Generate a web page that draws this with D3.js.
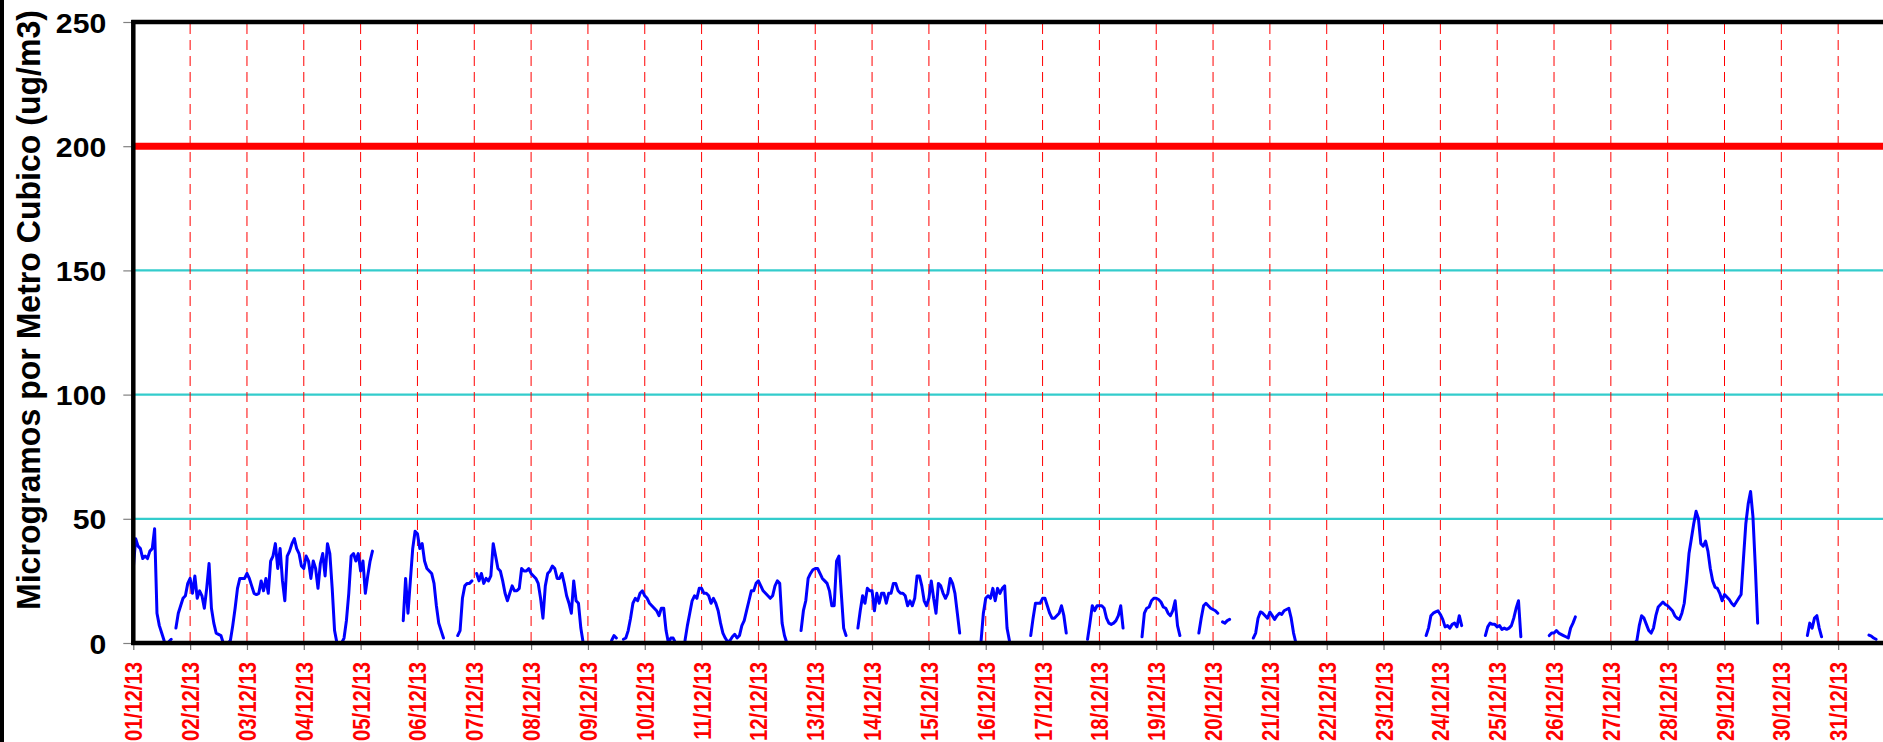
<!DOCTYPE html>
<html><head><meta charset="utf-8">
<script src="https://cdn.jsdelivr.net/npm/d3@7"></script>
<style>html,body{margin:0;padding:0;background:#fff;overflow:hidden}</style>
</head><body><svg id="chart" width="1883" height="742"></svg>
<script>
const n = null;
const startDate = new Date(2013, 11, 1);
const endDate = new Date(2014, 0, 1);
const dayLabels = ["01/12/13","02/12/13","03/12/13","04/12/13","05/12/13","06/12/13","07/12/13","08/12/13","09/12/13","10/12/13","11/12/13","12/12/13","13/12/13","14/12/13","15/12/13","16/12/13","17/12/13","18/12/13","19/12/13","20/12/13","21/12/13","22/12/13","23/12/13","24/12/13","25/12/13","26/12/13","27/12/13","28/12/13","29/12/13","30/12/13","31/12/13"];
const yTicks = [0, 50, 100, 150, 200, 250];
const gridValues = [50, 100, 150];
const limitValue = 200;
const yTitle = "Microgramos por Metro Cubico (ug/m3)";
// hourly PM10 values (ug/m3), one row per day, 24 hours each; null = no data
const hourlyByDay = [
 [30,42,39,38,34,35,34,37,38,46,12,7,4,1,n,0.5,1.5,n,6,12,15,18,19,24],
 [26,20,27,18,21,19,14,22,32,14,8,4,3.5,3,0,0,0,1,7,14,22,26,26,26],
 [28,26,23,20,19.5,20,25,21,26,20,33,35,40,30,38,25,17,35,37,40,42,38,36,31],
 [30,35,33,26,33,30,22,32,36,27,40,36,22,5,0,0,0,2,9,20,35,36,33,36],
 [29,33,20,27,33,37,n,n,n,n,n,n,n,n,n,n,n,n,9,26,12,25,38,45],
 [44,38,40,33,30,29,28,24,15,8,5,2,n,n,n,n,n,3,5,18,23,24,24,25],
 [n,28,25,28,24,26,25,27,40,35,30,29,25,20,17,20,23,21,21,22,30,29,29,30],
 [28,27,26,24,18,10,23,28,29,31,30,26,26,28,24,19,16,12,25,17,16,6,0,n],
 [n,n,n,n,n,n,n,n,n,n,1,3,2,n,n,1.5,2,5,10,16,18,17,20,21],
 [19,18,16,15,14,13,11,14,14,5,0,2,2,0,n,n,n,1,7,12,17,19,18,22],
 [22,20,20,19,16,18,16,13,8,4,2,0.5,1,2.5,3.5,2,3,7,9,13,17,21,21,24],
 [25,23,21,20,19,18,19,23,25,24,8,3,0,n,n,n,n,n,5,13,17,26,28,29.5],
 [30,30,28,26,25,24,21,15,15,33,35,20,6,3,n,n,n,n,6,13,19,16,22,21],
 [21,13,20,16,20,20,16,20,20,24,24,21,20,20,19,15,17,15,18,27,27,23,17,15],
 [18,25,18,12,24,23,20,18,20,26,24,20,12,4,n,n,n,n,n,n,n,n,0.5,12],
 [18,19,18,22,17,22,20,22,23,6,1,n,n,n,n,n,n,n,n,3,10,16,16,16],
 [18,18,15,12,10,10,11,12,15,11,4,n,n,n,n,n,n,n,n,1.5,8,15,13,15],
 [15,15,14,10,8,7.5,8,9,11,15,6,n,n,n,n,n,n,n,2.5,12,14,14.5,17,18],
 [18,17.5,16.5,14.5,14,12,11,13,17,7,3,n,n,n,n,n,n,n,4,10,15,16,15,14],
 [13.5,13,12,n,8.5,8,9,9.5,n,n,n,n,n,n,n,n,n,2,4,10,12.5,12,11,10],
 [12.5,11,9.5,11,12,11.5,13,13.5,14,10,4,0,n,n,n,n,n,n,n,n,n,n,n,n],
 [n,n,n,n,n,n,n,n,n,n,n,n,n,n,n,n,n,n,n,n,n,n,n,n],
 [n,n,n,n,n,n,n,n,n,n,n,n,n,n,n,n,n,n,3,6,11,12,12.5,13],
 [11.5,9.5,6.5,7,6,7.5,8,6.5,11,7,n,n,n,n,n,n,n,n,n,3,6.5,8,7.5,7.5],
 [6.5,7,5.5,6,5.5,6,7,10,14,17,2.5,n,n,n,n,n,n,n,n,n,n,n,3,4],
 [4,5,4,3.5,3,2.5,2,6,8,10.5,n,n,n,n,n,n,n,n,n,n,n,n,n,n],
 [n,n,n,n,n,n,n,n,n,n,0,1,7,11,10,7.5,5,4,6,11,14.5,15.5,16.5,15.5],
 [15,14,13,11,10,9.5,12,16,25,36,42,48,53,50,40,39,41,37,30,25,22.5,22,20,17],
 [19.5,18.5,17.5,16,15,16.5,18,19.5,34,48,56,61,51,31,8,n,n,n,n,n,n,n,n,n],
 [n,n,n,n,n,n,n,n,n,n,n,3,8,6,10,11,6,2.5,n,n,n,n,n,n],
 [n,n,n,n,n,n,n,n,n,n,n,n,n,3.2,2.8,2,1.5,n,n,n,n,n,n,n]
];

const W = 1883, H = 742;
const svg = d3.select("#chart");
const x = d3.scaleTime().domain([startDate, endDate]).range([133.3, 1895]);
const y = d3.scaleLinear().domain([0, 250]).range([643, 22]);
const days = d3.timeDay.range(startDate, endDate);
const points = hourlyByDay.flatMap((row, d) => row.map((v, h) => ({ t: d3.timeHour.offset(startDate, d * 24 + h), v })));

svg.append("rect").attr("width", W).attr("height", H).attr("fill", "#fff");
svg.append("rect").attr("x", 0).attr("y", 0).attr("width", 4).attr("height", H).attr("fill", "#000");

const x0 = x(startDate);
// cyan grid
svg.append("g").selectAll("line").data(gridValues).join("line")
  .attr("x1", x0).attr("x2", W).attr("y1", d => y(d)).attr("y2", d => y(d))
  .attr("stroke", "#33cccc").attr("stroke-width", 2.2);
// dashed day lines
svg.append("g").selectAll("line").data(days.slice(1)).join("line")
  .attr("x1", d => x(d)).attr("x2", d => x(d)).attr("y1", y(250) + 2).attr("y2", y(0) - 2)
  .attr("stroke", "#ff0000").attr("stroke-width", 1).attr("stroke-dasharray", "10,6");
// limit line
svg.append("line").attr("x1", x0).attr("x2", W).attr("y1", y(limitValue)).attr("y2", y(limitValue))
  .attr("stroke", "#ff0000").attr("stroke-width", 7);
// data line
const line = d3.line().defined(d => d.v !== null).x(d => x(d.t)).y(d => y(d.v));
svg.append("path").datum(points).attr("d", line).attr("fill", "none")
  .attr("stroke", "#0000ff").attr("stroke-width", 3).attr("stroke-linejoin", "round").attr("stroke-linecap", "round");

// y axis ticks
const yAxis = svg.append("g").attr("transform", `translate(${x0},0)`)
  .call(d3.axisLeft(y).tickValues(yTicks).tickSize(10).tickFormat(d3.format("d")));
yAxis.select(".domain").remove();
yAxis.selectAll(".tick line").attr("stroke", "#808080").attr("stroke-width", 1.2);
yAxis.selectAll(".tick text").attr("x", null).attr("dy", null)
  .attr("transform", "translate(-27,10) scale(1.12,1)")
  .attr("text-anchor", "end").attr("fill", "#000")
  .style("font-family", "'Liberation Sans', Arial, sans-serif").style("font-weight", "bold").style("font-size", "27px");

// x axis ticks
const xAxis = svg.append("g").attr("transform", `translate(0,${y(0)})`)
  .call(d3.axisBottom(x).tickValues(days).tickSize(7).tickFormat((d, i) => dayLabels[i]));
xAxis.select(".domain").remove();
xAxis.selectAll(".tick line").attr("stroke", "#707070").attr("stroke-width", 1.2);
xAxis.selectAll(".tick text").attr("y", null).attr("dy", null)
  .attr("transform", `translate(8.5,19) rotate(-90) scale(1,1.16)`)
  .attr("text-anchor", "end").attr("fill", "#ff0000")
  .style("font-family", "'Liberation Sans', Arial, sans-serif").style("font-weight", "bold").style("font-size", "20.3px");

// frame
svg.append("line").attr("x1", x0 - 2).attr("x2", W).attr("y1", y(250)).attr("y2", y(250)).attr("stroke", "#000").attr("stroke-width", 4.5);
svg.append("line").attr("x1", x0).attr("x2", x0).attr("y1", y(250) - 2).attr("y2", y(0) + 2).attr("stroke", "#000").attr("stroke-width", 4.5);
svg.append("line").attr("x1", x0 - 2).attr("x2", W).attr("y1", y(0)).attr("y2", y(0)).attr("stroke", "#000").attr("stroke-width", 4.5);

// y title
svg.append("text").text(yTitle)
  .attr("transform", `translate(40,310) rotate(-90) scale(1,1.12)`)
  .attr("text-anchor", "middle").attr("fill", "#000")
  .attr("textLength", 600).attr("lengthAdjust", "spacingAndGlyphs")
  .style("font-family", "'Liberation Sans', Arial, sans-serif").style("font-weight", "bold").style("font-size", "30px");
</script></body></html>
